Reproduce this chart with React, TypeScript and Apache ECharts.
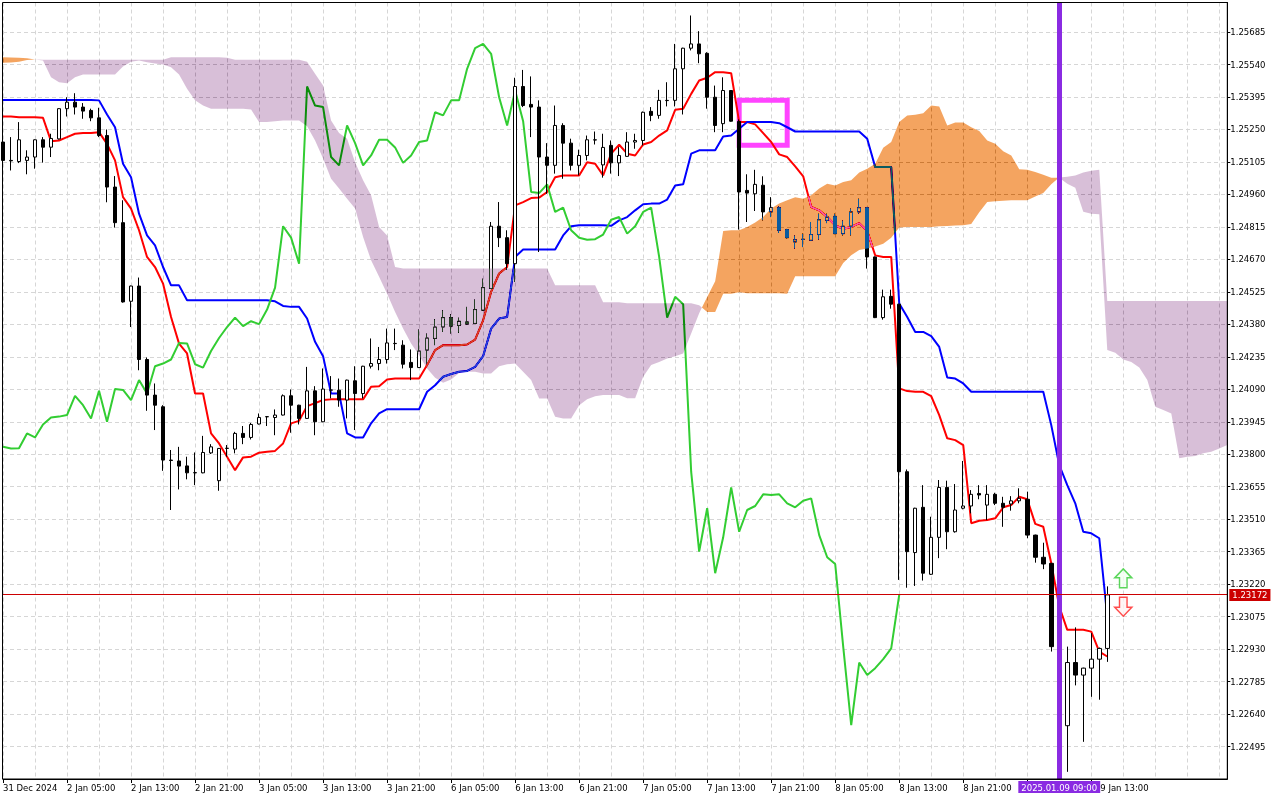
import React, { useEffect, useRef } from "react";
import * as echarts from "echarts";

// ---------- DATA (H1 bars) ----------
const opens = [
  1.25194, 1.25112, 1.25107, 1.25112, 1.25127, 1.25204, 1.25171, 1.25208, 1.25343, 1.25372,
  1.25350, 1.25335, 1.25302, 1.25223, 1.24993, 1.24834, 1.24483, 1.24551, 1.24223, 1.24064,
  1.24012, 1.23774, 1.23770, 1.23748, 1.23717, 1.23717, 1.23806, 1.23682, 1.23826, 1.23823,
  1.23893, 1.23875, 1.23935, 1.23967, 1.23964, 1.23975, 1.24061, 1.24019, 1.23960, 1.24083,
  1.23945, 1.24086, 1.24086, 1.24042, 1.24128, 1.24071, 1.24193, 1.24205, 1.24223, 1.24294,
  1.24287, 1.24210, 1.24187, 1.24265, 1.24317, 1.24368, 1.24410, 1.24375, 1.24391, 1.24384,
  1.24443, 1.24540, 1.24818, 1.24767, 1.24651, 1.25442, 1.25362, 1.25350, 1.25127, 1.25090,
  1.25268, 1.25189, 1.25090, 1.25134, 1.25203, 1.25092, 1.25179, 1.25101, 1.25130, 1.25194,
  1.25201, 1.25331, 1.25313, 1.25379, 1.25380, 1.25521, 1.25613, 1.25632, 1.25590, 1.25394,
  1.25276, 1.25424, 1.25286, 1.24978, 1.24963, 1.25001, 1.24882, 1.24901, 1.24803, 1.24748,
  1.24759, 1.24755, 1.24781, 1.24844, 1.24862, 1.24785, 1.24818, 1.24882, 1.24901, 1.24681,
  1.24410, 1.24505, 1.24470, 1.23722, 1.23361, 1.23563, 1.23264, 1.23429, 1.23652, 1.23454,
  1.23559, 1.23569, 1.23625, 1.23573, 1.23621, 1.23581, 1.23578, 1.23592, 1.23599, 1.23439,
  1.23340, 1.23313, 1.22941, 1.22588, 1.22870, 1.22814, 1.22845, 1.22885, 1.22933,
];
const closes = [
  1.25112, 1.25110, 1.25204, 1.25127, 1.25204, 1.25171, 1.25210, 1.25343, 1.25372, 1.25350,
  1.25332, 1.25302, 1.25223, 1.24993, 1.24834, 1.24480, 1.24551, 1.24223, 1.24064, 1.24019,
  1.23774, 1.23772, 1.23747, 1.23717, 1.23718, 1.23808, 1.23833, 1.23826, 1.23827, 1.23893,
  1.23875, 1.23933, 1.23964, 1.23968, 1.23975, 1.24061, 1.24019, 1.23960, 1.24083, 1.23945,
  1.24091, 1.24087, 1.24042, 1.24131, 1.24071, 1.24193, 1.24205, 1.24223, 1.24297, 1.24295,
  1.24202, 1.24187, 1.24261, 1.24319, 1.24368, 1.24410, 1.24372, 1.24394, 1.24381, 1.24446,
  1.24544, 1.24818, 1.24767, 1.24651, 1.25442, 1.25357, 1.25350, 1.25127, 1.25090, 1.25268,
  1.25189, 1.25090, 1.25134, 1.25204, 1.25204, 1.25170, 1.25101, 1.25134, 1.25194, 1.25201,
  1.25327, 1.25313, 1.25380, 1.25380, 1.25521, 1.25613, 1.25632, 1.25588, 1.25394, 1.25268,
  1.25424, 1.25287, 1.24971, 1.24966, 1.25005, 1.24882, 1.24901, 1.24800, 1.24767, 1.24758,
  1.24760, 1.24781, 1.24847, 1.24859, 1.24785, 1.24818, 1.24882, 1.24901, 1.24681, 1.24410,
  1.24503, 1.24470, 1.23722, 1.23365, 1.23559, 1.23269, 1.23429, 1.23652, 1.23454, 1.23551,
  1.23569, 1.23621, 1.23618, 1.23621, 1.23581, 1.23563, 1.23592, 1.23603, 1.23439, 1.23340,
  1.23310, 1.22941, 1.22590, 1.22870, 1.22814, 1.22845, 1.22885, 1.22933, 1.23172,
];
const highs = [
  1.25201, 1.25216, 1.25283, 1.25157, 1.25206, 1.25216, 1.25231, 1.25345, 1.25394, 1.25412,
  1.25368, 1.25343, 1.25347, 1.25250, 1.25042, 1.24934, 1.24553, 1.24589, 1.24232, 1.24116,
  1.24019, 1.23819, 1.23833, 1.23789, 1.23808, 1.23882, 1.23845, 1.23828, 1.23841, 1.23900,
  1.23926, 1.23940, 1.23982, 1.23970, 1.24000, 1.24067, 1.24089, 1.24021, 1.24190, 1.24104,
  1.24183, 1.24149, 1.24138, 1.24133, 1.24193, 1.24195, 1.24317, 1.24279, 1.24361, 1.24361,
  1.24309, 1.24268, 1.24357, 1.24339, 1.24403, 1.24443, 1.24425, 1.24410, 1.24458, 1.24491,
  1.24584, 1.24837, 1.24926, 1.24800, 1.25481, 1.25516, 1.25487, 1.25380, 1.25189, 1.25357,
  1.25278, 1.25209, 1.25160, 1.25223, 1.25241, 1.25231, 1.25201, 1.25171, 1.25238, 1.25231,
  1.25330, 1.25350, 1.25427, 1.25461, 1.25632, 1.25615, 1.25759, 1.25689, 1.25595, 1.25446,
  1.25483, 1.25426, 1.25295, 1.25050, 1.25070, 1.25041, 1.24948, 1.24907, 1.24806, 1.24777,
  1.24785, 1.24837, 1.24874, 1.24874, 1.24874, 1.24844, 1.24897, 1.24941, 1.24904, 1.24683,
  1.24535, 1.24535, 1.24472, 1.23732, 1.23561, 1.23662, 1.23521, 1.23685, 1.23682, 1.23667,
  1.23770, 1.23640, 1.23662, 1.23662, 1.23628, 1.23610, 1.23613, 1.23648, 1.23633, 1.23441,
  1.23405, 1.23315, 1.22960, 1.22941, 1.23027, 1.22847, 1.23001, 1.22937, 1.23210,
];
const lows = [
  1.25103, 1.25067, 1.25100, 1.25050, 1.25075, 1.25102, 1.25127, 1.25205, 1.25308, 1.25317,
  1.25298, 1.25287, 1.25216, 1.24925, 1.24812, 1.24477, 1.24368, 1.24175, 1.23994, 1.23908,
  1.23726, 1.23551, 1.23643, 1.23688, 1.23662, 1.23715, 1.23801, 1.23637, 1.23789, 1.23804,
  1.23845, 1.23866, 1.23933, 1.23926, 1.23885, 1.23973, 1.23896, 1.23933, 1.23958, 1.23885,
  1.23943, 1.24049, 1.24012, 1.23960, 1.23908, 1.24049, 1.24183, 1.24175, 1.24205, 1.24265,
  1.24183, 1.24131, 1.24185, 1.24205, 1.24287, 1.24346, 1.24339, 1.24342, 1.24380, 1.24382,
  1.24441, 1.24538, 1.24725, 1.24624, 1.24569, 1.25350, 1.25216, 1.24703, 1.24963, 1.25053,
  1.25030, 1.25067, 1.25045, 1.25112, 1.25183, 1.25035, 1.25053, 1.25042, 1.25128, 1.25164,
  1.25179, 1.25287, 1.25298, 1.25353, 1.25353, 1.25317, 1.25603, 1.25546, 1.25343, 1.25238,
  1.25238, 1.25285, 1.24803, 1.24837, 1.24886, 1.24844, 1.24859, 1.24788, 1.24764, 1.24718,
  1.24725, 1.24753, 1.24758, 1.24832, 1.24783, 1.24777, 1.24777, 1.24874, 1.24629, 1.24408,
  1.24401, 1.24450, 1.23239, 1.23204, 1.23212, 1.23236, 1.23261, 1.23336, 1.23376, 1.23450,
  1.23554, 1.23536, 1.23599, 1.23506, 1.23573, 1.23476, 1.23548, 1.23581, 1.23425, 1.23316,
  1.23287, 1.22919, 1.22540, 1.22382, 1.22768, 1.22516, 1.22717, 1.22704, 1.22873,
];

// Tenkan-sen (red)
const tenkan = [
  1.25308, 1.25308, 1.25305, 1.25305, 1.25305, 1.25302, 1.25198, 1.25201, 1.25216, 1.25231,
  1.25234, 1.25234, 1.25238, 1.25186, 1.25112, 1.24948, 1.24897, 1.24800, 1.24681, 1.24636,
  1.24562, 1.24413, 1.24294, 1.24250, 1.24071, 1.24071, 1.23893, 1.23848, 1.23789, 1.23729,
  1.23786, 1.23789, 1.23807, 1.23811, 1.23815, 1.23848, 1.23938, 1.23949, 1.24015, 1.24028,
  1.24042, 1.24045, 1.24045, 1.24045, 1.24045, 1.24045, 1.24101, 1.24104, 1.24134, 1.24138,
  1.24138, 1.24138, 1.24138, 1.24198, 1.24265, 1.24287, 1.24287, 1.24287, 1.24290, 1.24312,
  1.24398, 1.24525, 1.24607, 1.24636, 1.24911, 1.24926, 1.24944, 1.24946, 1.24971, 1.25037,
  1.25045, 1.25045, 1.25045, 1.25104, 1.25097, 1.25045, 1.25142, 1.25182, 1.25142, 1.25134,
  1.25183, 1.25194, 1.25223, 1.25246, 1.25338, 1.25343, 1.25409, 1.25469, 1.25481, 1.25506,
  1.25506, 1.25501, 1.25283, 1.25283, 1.25273, 1.25234, 1.25194, 1.25139, 1.25127, 1.25085,
  1.25041, 1.24904, 1.24889, 1.24859, 1.24822, 1.24807, 1.24815, 1.24832, 1.24797, 1.24688,
  1.24681, 1.24681, 1.24094, 1.24082, 1.24079, 1.24079, 1.24059, 1.23975, 1.23871, 1.23863,
  1.23841, 1.23492, 1.23503, 1.23506, 1.23514, 1.23563, 1.23573, 1.23610, 1.23599, 1.23489,
  1.23476, 1.23313, 1.23120, 1.23016, 1.23016, 1.23016, 1.23008, 1.22919, 1.22897,
];

// Kijun-sen (blue)
const kijun = [
  1.25382, 1.25382, 1.25382, 1.25382, 1.25382, 1.25382, 1.25382, 1.25382, 1.25382, 1.25382,
  1.25382, 1.25382, 1.25380, 1.25317, 1.25260, 1.25097, 1.25037, 1.24874, 1.24777, 1.24733,
  1.24636, 1.24554, 1.24554, 1.24488, 1.24488, 1.24488, 1.24488, 1.24488, 1.24488, 1.24488,
  1.24488, 1.24488, 1.24488, 1.24488, 1.24483, 1.24462, 1.24458, 1.24458, 1.24406, 1.24302,
  1.24238, 1.24071, 1.24071, 1.23893, 1.23875, 1.23875, 1.23938, 1.23982, 1.24001, 1.24001,
  1.24001, 1.24001, 1.24001, 1.24079, 1.24108, 1.24146, 1.24158, 1.24168, 1.24172, 1.24190,
  1.24238, 1.24361, 1.24406, 1.24413, 1.24681, 1.24714, 1.24714, 1.24714, 1.24714, 1.24714,
  1.24777, 1.24818, 1.24822, 1.24822, 1.24822, 1.24822, 1.24820, 1.24844, 1.24859, 1.24889,
  1.24916, 1.24919, 1.24919, 1.24937, 1.25000, 1.25005, 1.25142, 1.25157, 1.25157, 1.25157,
  1.25219, 1.25223, 1.25253, 1.25283, 1.25283, 1.25283, 1.25283, 1.25278, 1.25260, 1.25241,
  1.25241, 1.25241, 1.25241, 1.25241, 1.25241, 1.25241, 1.25241, 1.25241, 1.25209, 1.25082,
  1.25082, 1.25082, 1.24473, 1.24413, 1.24346, 1.24346, 1.24327, 1.24279, 1.24143, 1.24138,
  1.24116, 1.24079, 1.24079, 1.24079, 1.24079, 1.24079, 1.24079, 1.24079, 1.24079, 1.24079,
  1.24079, 1.23930, 1.23752, 1.23662, 1.23581, 1.23454, 1.23447, 1.23425, 1.23075,
];

// Chikou span (green), drawn 26 bars back
const chikou = [
  1.23833, 1.23826, 1.23827, 1.23893, 1.23875, 1.23933, 1.23964, 1.23968, 1.23975, 1.24061,
  1.24019, 1.23960, 1.24083, 1.23945, 1.24091, 1.24087, 1.24042, 1.24131, 1.24071, 1.24193,
  1.24205, 1.24223, 1.24297, 1.24295, 1.24202, 1.24187, 1.24261, 1.24319, 1.24368, 1.24410,
  1.24372, 1.24394, 1.24381, 1.24446, 1.24544, 1.24818, 1.24767, 1.24651, 1.25442, 1.25357,
  1.25350, 1.25127, 1.25090, 1.25268, 1.25189, 1.25090, 1.25134, 1.25204, 1.25204, 1.25170,
  1.25101, 1.25134, 1.25194, 1.25201, 1.25327, 1.25313, 1.25380, 1.25380, 1.25521, 1.25613,
  1.25632, 1.25588, 1.25394, 1.25268, 1.25424, 1.25287, 1.24971, 1.24966, 1.25005, 1.24882,
  1.24901, 1.24800, 1.24767, 1.24758, 1.24760, 1.24781, 1.24847, 1.24859, 1.24785, 1.24818,
  1.24882, 1.24901, 1.24681, 1.24410, 1.24503, 1.24470, 1.23722, 1.23365, 1.23559, 1.23269,
  1.23429, 1.23652, 1.23454, 1.23551, 1.23569, 1.23621, 1.23618, 1.23621, 1.23581, 1.23563,
  1.23592, 1.23603, 1.23439, 1.23340, 1.23310, 1.22941, 1.22590, 1.22870, 1.22814, 1.22845,
  1.22885, 1.22933, 1.23172,
];

// Senkou span A / B (cloud), drawn 26 bars forward
const spanA = [
  1.25573, 1.25571, 1.25570, 1.25568, 1.25563, 1.25558, 1.25483, 1.25461, 1.25457, 1.25483,
  1.25496, 1.25496, 1.25496, 1.25496, 1.25496, 1.25531, 1.25553, 1.25558, 1.25550, 1.25545,
  1.25540, 1.25528, 1.25496, 1.25432, 1.25380, 1.25357, 1.25343, 1.25343, 1.25343, 1.25343,
  1.25343, 1.25339, 1.25283, 1.25283, 1.25287, 1.25290, 1.25290, 1.25290, 1.25264, 1.25201,
  1.25120, 1.25030, 1.24986, 1.24941, 1.24897, 1.24770, 1.24666, 1.24592, 1.24517, 1.24435,
  1.24361, 1.24294, 1.24242, 1.24183, 1.24141, 1.24119, 1.24134, 1.24163, 1.24168, 1.24168,
  1.24161, 1.24161, 1.24193, 1.24202, 1.24205, 1.24168, 1.24131, 1.24049, 1.24049, 1.23967,
  1.23960, 1.23960, 1.24019, 1.24045, 1.24059, 1.24064, 1.24064, 1.24064, 1.24050, 1.24050,
  1.24146, 1.24198, 1.24212, 1.24228, 1.24238, 1.24250, 1.24339, 1.24430, 1.24502, 1.24572,
  1.24797, 1.24800, 1.24800, 1.24815, 1.24835, 1.24859, 1.24897, 1.24919, 1.24934, 1.24947,
  1.24941, 1.24956, 1.24986, 1.25008, 1.25000, 1.25015, 1.25023, 1.25058, 1.25075, 1.25097,
  1.25168, 1.25194, 1.25283, 1.25313, 1.25316, 1.25323, 1.25357, 1.25353, 1.25268, 1.25281,
  1.25281, 1.25260, 1.25243, 1.25201, 1.25186, 1.25153, 1.25134, 1.25073, 1.25070, 1.25060,
  1.25048, 1.25035, 1.25034, 1.25008, 1.24990, 1.24883, 1.24874, 1.24871, 1.24265, 1.24253,
  1.24223, 1.24212, 1.24187, 1.24131, 1.24012, 1.23997, 1.23982, 1.23782, 1.23789, 1.23792,
  1.23804, 1.23811, 1.23826, 1.23841,
];
const spanB = [
  1.25548, 1.25549, 1.25553, 1.25560, 1.25563, 1.25561, 1.25561, 1.25561, 1.25561, 1.25561,
  1.25561, 1.25561, 1.25561, 1.25561, 1.25561, 1.25561, 1.25561, 1.25561, 1.25561, 1.25561,
  1.25561, 1.25573, 1.25573, 1.25573, 1.25573, 1.25573, 1.25573, 1.25573, 1.25570, 1.25561,
  1.25561, 1.25561, 1.25561, 1.25561, 1.25561, 1.25561, 1.25561, 1.25561, 1.25553, 1.25499,
  1.25446, 1.25290, 1.25234, 1.25209, 1.25104, 1.25023, 1.24956, 1.24815, 1.24777, 1.24636,
  1.24629, 1.24629, 1.24629, 1.24629, 1.24629, 1.24629, 1.24629, 1.24629, 1.24629, 1.24629,
  1.24629, 1.24629, 1.24629, 1.24629, 1.24629, 1.24629, 1.24629, 1.24629, 1.24629, 1.24554,
  1.24554, 1.24554, 1.24554, 1.24554, 1.24554, 1.24479, 1.24479, 1.24479, 1.24474, 1.24474,
  1.24474, 1.24474, 1.24474, 1.24474, 1.24474, 1.24474, 1.24474, 1.24465, 1.24435, 1.24435,
  1.24517, 1.24517, 1.24523, 1.24519, 1.24519, 1.24519, 1.24519, 1.24519, 1.24517, 1.24595,
  1.24595, 1.24595, 1.24595, 1.24595, 1.24595, 1.24654, 1.24688, 1.24712, 1.24719, 1.24728,
  1.24740, 1.24767, 1.24812, 1.24815, 1.24815, 1.24815, 1.24815, 1.24818, 1.24819, 1.24821,
  1.24822, 1.24828, 1.24881, 1.24926, 1.24930, 1.24932, 1.24934, 1.24934, 1.24934, 1.24951,
  1.24966, 1.25005, 1.25036, 1.25039, 1.25045, 1.25058, 1.25066, 1.25070, 1.24484, 1.24484,
  1.24484, 1.24484, 1.24484, 1.24484, 1.24484, 1.24484, 1.24484, 1.24484, 1.24484, 1.24484,
  1.24484, 1.24484, 1.24484, 1.24484,
];

// x-axis tick labels, one every 8 bars
const xTickLabels = [
  "31 Dec 2024", "2 Jan 05:00", "2 Jan 13:00", "2 Jan 21:00", "3 Jan 05:00", "3 Jan 13:00",
  "3 Jan 21:00", "6 Jan 05:00", "6 Jan 13:00", "6 Jan 21:00", "7 Jan 05:00", "7 Jan 13:00",
  "7 Jan 21:00", "8 Jan 05:00", "8 Jan 13:00", "8 Jan 21:00", "9 Jan 05:00", "9 Jan 13:00",
];

const BAR_COUNT = 154; // 139 bars + projected cloud to the right edge
const currentPrice = 1.23172;
const markedBar = 132; // 2025.01.09 09:00
const markedLabel = "2025.01.09 09:00";
const boxBars = [92, 98];
const boxPrices = [1.2538, 1.2518];
const arrowBar = 140;
const arrowPrices = [1.23246, 1.23119];

// bar times (H1, weekend skipped)
function barTime(i: number): string {
  let d: Date;
  if (i < 3) d = new Date(Date.UTC(2024, 11, 31, 21 + i));
  else if (i <= 50) d = new Date(Date.UTC(2025, 0, 2, i - 3));
  else d = new Date(Date.UTC(2025, 0, 6, i - 51));
  const p = (n: number) => (n < 10 ? "0" + n : "" + n);
  return `${d.getUTCFullYear()}.${p(d.getUTCMonth() + 1)}.${p(d.getUTCDate())} ${p(d.getUTCHours())}:00`;
}
const categories = Array.from({ length: BAR_COUNT }, (_, i) => barTime(i));

const FONT = '"DejaVu Sans", Tahoma, sans-serif';
const FS = 8.5;
const ORANGE_INV = "#0b5b9f"; // inverse of sandybrown, blended with 'difference'
const PURPLE_INV = "#274027"; // inverse of thistle
const GRID_COLOR = "#d6d6d6";
const PRICE_LINE = "#cc0001";

const UP_ARROW = "path://M9,0 L18,9 L13,9 L13,19 L5,19 L5,9 L0,9 Z";
const DOWN_ARROW = "path://M5,0 L13,0 L13,10 L18,10 L9,19 L0,10 L5,10 Z";

function cloudRenderItem(params: any, api: any) {
  if (params.dataIndex !== 0) return null;
  const n = spanA.length;
  const pa = spanA.map((v, i) => api.coord([i, v]));
  const pb = spanB.map((v, i) => api.coord([i, v]));
  const polys: any[] = [];
  let sign = spanA[0] - spanB[0] >= 0 ? 1 : -1;
  let top: number[][] = [pa[0]];
  let bot: number[][] = [pb[0]];
  const flush = () => {
    polys.push({
      type: "polygon",
      shape: { points: top.concat(bot.slice().reverse()) },
      style: { fill: sign > 0 ? ORANGE_INV : PURPLE_INV, stroke: null, blend: "difference" },
    });
  };
  for (let i = 1; i < n; i++) {
    const d0 = spanA[i - 1] - spanB[i - 1];
    const d1 = spanA[i] - spanB[i];
    const s1 = d1 > 0 ? 1 : d1 < 0 ? -1 : sign;
    if (s1 !== sign) {
      const t = d0 === d1 ? 0 : d0 / (d0 - d1);
      const c = [
        pa[i - 1][0] + t * (pa[i][0] - pa[i - 1][0]),
        pa[i - 1][1] + t * (pa[i][1] - pa[i - 1][1]),
      ];
      top.push(c);
      bot.push(c);
      flush();
      sign = s1;
      top = [c];
      bot = [c];
    }
    top.push(pa[i]);
    bot.push(pb[i]);
  }
  flush();
  return { type: "group", children: polys };
}

const option: any = {
  animation: false,
  backgroundColor: "#ffffff",
  textStyle: { fontFamily: FONT },
  grid: { left: 2.5, top: 2.5, right: 52.7, bottom: 21, containLabel: false },
  xAxis: {
    type: "category",
    data: categories,
    boundaryGap: false,
    axisLine: { show: true, lineStyle: { color: "#000", width: 1 } },
    axisTick: {
      show: true,
      length: 4,
      interval: (i: number) => i % 8 === 0 && i <= 138,
      lineStyle: { color: "#000" },
    },
    axisLabel: {
      interval: (i: number) => i % 8 === 0 && i <= 138 && i !== 128,
      formatter: (_v: string, i: number) => {
        const t = xTickLabels[Math.round(i / 8)] || "";
        return i === 136 ? `{s|${t}}` : t;
      },
      rich: {
        s: { padding: [0, 0, 0, 9], fontSize: FS, fontFamily: FONT, color: "#000" },
      },
      align: "left",
      margin: 4,
      color: "#000",
      fontSize: FS,
      fontFamily: FONT,
    },
    splitLine: {
      show: true,
      interval: (i: number) => i % 4 === 0,
      lineStyle: { color: GRID_COLOR, type: [4, 3], width: 1 },
    },
  },
  yAxis: {
    type: "value",
    position: "right",
    min: 1.2235,
    max: 1.25817,
    interval: 0.00145,
    axisLine: { show: true, lineStyle: { color: "#000", width: 1 } },
    axisTick: { show: true, length: 3, lineStyle: { color: "#000" } },
    axisLabel: {
      formatter: (v: number) => v.toFixed(5),
      showMinLabel: false,
      showMaxLabel: false,
      margin: 3,
      color: "#000",
      fontSize: FS,
      fontFamily: FONT,
    },
    splitLine: { show: true, lineStyle: { color: GRID_COLOR, type: [4, 3], width: 1 } },
  },
  graphic: [
    {
      type: "rect",
      silent: true,
      z: 100,
      shape: { x: 2.5, y: 2.5, width: 1224.8, height: 776.5 },
      style: { fill: "none", stroke: "#000", lineWidth: 1 },
    },
  ],
  series: [
    {
      name: "Price",
      type: "candlestick",
      z: 2,
      barWidth: 4,
      data: opens.map((o, i) => [o, closes[i], lows[i], highs[i]]),
      itemStyle: {
        color: "#ffffff",
        color0: "#000000",
        borderColor: "#000000",
        borderColor0: "#000000",
        borderColorDoji: "#000000",
        borderWidth: 1,
      },
      emphasis: { disabled: true },
    },
    {
      name: "Tenkan-sen",
      type: "line",
      z: 2,
      data: tenkan,
      showSymbol: false,
      lineStyle: { color: "#ff0000", width: 2 },
      emphasis: { disabled: true },
    },
    {
      name: "Kijun-sen",
      type: "line",
      z: 2,
      data: kijun,
      showSymbol: false,
      lineStyle: { color: "#0000ff", width: 2 },
      emphasis: { disabled: true },
    },
    {
      name: "Chikou Span",
      type: "line",
      z: 2,
      data: chikou,
      showSymbol: false,
      lineStyle: { color: "#32cd32", width: 2 },
      emphasis: { disabled: true },
    },
    {
      name: "Kumo",
      type: "custom",
      z: 3,
      silent: true,
      clip: false,
      data: spanA.map((a, i) => [i, a, spanB[i]]),
      encode: { x: 0, y: [1, 2] },
      renderItem: cloudRenderItem,
    },
    {
      name: "Bid",
      type: "line",
      z: 5,
      silent: true,
      clip: false,
      data: categories.map(() => currentPrice),
      showSymbol: false,
      lineStyle: { color: PRICE_LINE, width: 1, type: "solid" },
      emphasis: { disabled: true },
      endLabel: {
        show: true,
        distance: 2,
        formatter: () => currentPrice.toFixed(5),
        color: "#ffffff",
        backgroundColor: "#cc0000",
        padding: [2, 3, 1, 3],
        fontSize: FS,
        fontFamily: FONT,
      },
    },
    {
      name: "Marks",
      type: "scatter",
      z: 5,
      silent: true,
      symbolSize: [17, 19],
      data: [
        {
          value: [categories[arrowBar], arrowPrices[0]],
          symbol: UP_ARROW,
          itemStyle: { color: "#f2fff2", borderColor: "#33cc33", borderWidth: 1.5 },
        },
        {
          value: [categories[arrowBar], arrowPrices[1]],
          symbol: DOWN_ARROW,
          itemStyle: { color: "#fff2f2", borderColor: "#ff2222", borderWidth: 1.5 },
        },
      ],
      markLine: {
        silent: true,
        animation: false,
        precision: 5,
        symbol: ["none", "none"],
        data: [
          {
            xAxis: categories[markedBar],
            lineStyle: { color: "#8a2be2", width: 5, type: "solid" },
            label: {
              show: true,
              position: "start",
              distance: 2,
              formatter: markedLabel,
              color: "#ffffff",
              backgroundColor: "#8a2be2",
              padding: [2, 3, 1, 3],
              fontSize: FS,
              fontFamily: FONT,
            },
          },
        ],
      },
      markArea: {
        silent: true,
        itemStyle: { color: "rgba(0,0,0,0)", borderColor: "#ff44ff", borderWidth: 5 },
        data: [
          [
            { coord: [categories[boxBars[0]], boxPrices[0]] },
            { coord: [categories[boxBars[1]], boxPrices[1]] },
          ],
        ],
      },
    },
  ],
};

const blendCss = `
[fill="${ORANGE_INV}" i], [fill="${PURPLE_INV}" i],
[fill="rgb(11,91,159)"], [fill="rgb(39,64,39)"] { mix-blend-mode: difference; }
[stroke="${PRICE_LINE}" i] { shape-rendering: crispEdges; }
`;

export default function App() {
  const ref = useRef<HTMLDivElement>(null);
  useEffect(() => {
    if (!ref.current) return;
    const chart = echarts.init(ref.current, null, { renderer: "svg" });
    chart.setOption(option);
    return () => chart.dispose();
  }, []);
  return (
    <>
      <style>{blendCss}</style>
      <div
        ref={ref}
        style={{ position: "fixed", left: 0, top: 0, width: 1280, height: 800, background: "#ffffff" }}
      />
    </>
  );
}
